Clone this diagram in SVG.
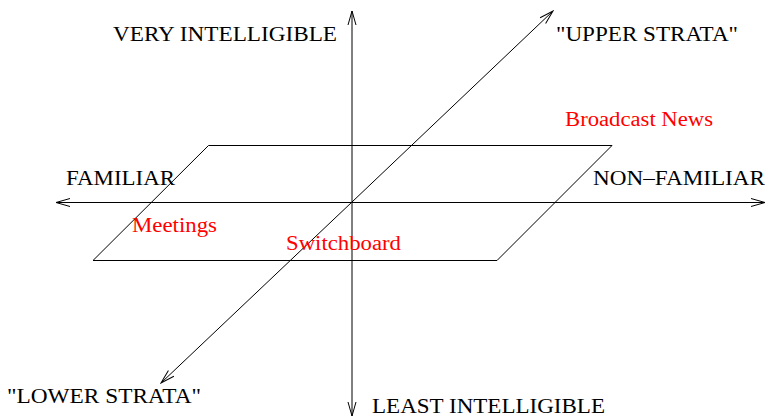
<svg xmlns="http://www.w3.org/2000/svg" width="765" height="417" viewBox="0 0 765 417">
  <defs>
    <marker id="open" markerWidth="16" markerHeight="10" refX="15" refY="5" orient="auto" markerUnits="userSpaceOnUse">
      <path d="M1,1 L15,5 L1,9" fill="none" stroke="#000" stroke-width="1"/>
    </marker>
    <style>
      .ax { stroke: #000; stroke-width: 1; fill: none; marker-end: url(#open); }
      .plane { stroke: #000; stroke-width: 1; fill: none; }
      text { font-family: "Liberation Serif", "Times New Roman", serif; font-size: 20.5px; fill: #000; }
      .red { fill: #ff0000; }
    </style>
  </defs>
  <rect width="765" height="417" fill="#fff"/>

  <g id="plane">
    <polygon class="plane" points="208.5,145.5 612,145.5 497,260.5 93,260.5"/>
  </g>

  <g id="connectors">
    <line class="ax" x1="352" y1="202.5" x2="352" y2="11"/>
    <line class="ax" x1="352" y1="202.5" x2="352" y2="416"/>
    <line class="ax" x1="352" y1="202.5" x2="56" y2="202.5"/>
    <line class="ax" x1="352" y1="202.5" x2="765" y2="202.5"/>
    <line class="ax" x1="352" y1="202" x2="553" y2="11"/>
    <line class="ax" x1="352" y1="202" x2="161" y2="383"/>
  </g>

  <g id="very-intelligible"><text x="113" y="41" textLength="224" lengthAdjust="spacingAndGlyphs">VERY INTELLIGIBLE</text></g>
  <g id="least-intelligible"><text x="372" y="413" textLength="233" lengthAdjust="spacingAndGlyphs">LEAST INTELLIGIBLE</text></g>
  <g id="upper-strata"><text x="556" y="41" textLength="182" lengthAdjust="spacingAndGlyphs">"UPPER STRATA"</text></g>
  <g id="lower-strata"><text x="7" y="403" textLength="194" lengthAdjust="spacingAndGlyphs">"LOWER STRATA"</text></g>
  <g id="familiar"><text x="66" y="185" textLength="109" lengthAdjust="spacingAndGlyphs">FAMILIAR</text></g>
  <g id="non-familiar"><text x="593" y="185" textLength="172" lengthAdjust="spacingAndGlyphs">NON–FAMILIAR</text></g>
  <g id="broadcast-news"><text class="red" x="565" y="126" textLength="148" lengthAdjust="spacingAndGlyphs">Broadcast News</text></g>
  <g id="meetings"><text class="red" x="132" y="232" textLength="85" lengthAdjust="spacingAndGlyphs">Meetings</text></g>
  <g id="switchboard"><text class="red" x="286" y="250" textLength="115" lengthAdjust="spacingAndGlyphs">Switchboard</text></g>
</svg>
